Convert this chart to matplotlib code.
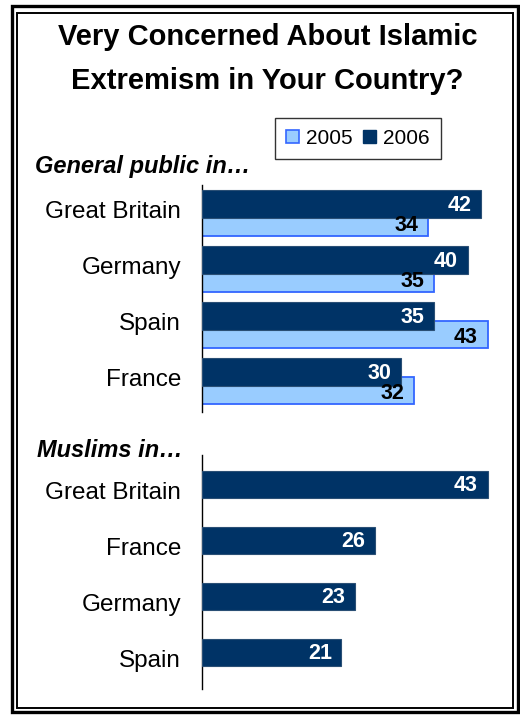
import matplotlib

matplotlib.use("Agg")
import matplotlib.pyplot as plt
from matplotlib.patches import Patch, Rectangle

plt.rcParams["font.family"] = ["Liberation Sans", "DejaVu Sans"]

# data
public_countries = ["Great Britain", "Germany", "Spain", "France"]
public_2005 = [34, 35, 43, 32]
public_2006 = [42, 40, 35, 30]
muslim_countries = ["Great Britain", "France", "Germany", "Spain"]
muslim_2006 = [43, 26, 23, 21]
title_lines = ["Very Concerned About Islamic", "Extremism in Your Country?"]

DARK = "#003366"
LIGHT = "#99CCFF"
LIGHT_EDGE = "#3366FF"

W, H = 520, 715
BAND = 56.0  # pixels per category
X0 = 202  # pixel position of zero
PX_PER_UNIT = 6.64
XMAX = 46


def fx(px):
    return px / W


def fy(py):
    return 1 - py / H


def make_axes(fig, top, bottom):
    ax = fig.add_axes([fx(X0), fy(bottom), fx(PX_PER_UNIT * XMAX), (bottom - top) / H])
    ax.set_xlim(0, XMAX)
    ax.set_ylim((bottom - top) / BAND, 0)
    for side in ["top", "right", "bottom"]:
        ax.spines[side].set_visible(False)
    ax.spines["left"].set_linewidth(1.0)
    ax.set_xticks([])
    ax.tick_params(axis="y", length=0, pad=15, labelsize=17.5)
    return ax


def value_labels(ax, ys, vals, color):
    for y, v in zip(ys, vals):
        ax.text(v - 1.45, y, str(v), ha="right", va="center", color=color,
                fontsize=15.5, fontweight="bold", zorder=5)


fig = plt.figure(figsize=(W / 100, H / 100), dpi=100)

# double frame
fig.patches.append(Rectangle((fx(11.5), fy(711.5)), fx(517.5 - 11.5), (711.5 - 6) / H,
                             transform=fig.transFigure, fill=False, lw=2.4, ec="black"))
fig.patches.append(Rectangle((fx(16.5), fy(708)), fx(513 - 16.5), (708 - 12.5) / H,
                             transform=fig.transFigure, fill=False, lw=1.4, ec="black"))

fig.text(fx(267.5), fy(45), title_lines[0], ha="center", va="baseline",
         fontsize=21, fontweight="bold")
fig.text(fx(267.5), fy(89), title_lines[1], ha="center", va="baseline",
         fontsize=21, fontweight="bold")

fig.text(fx(35), fy(173), "General public in\u2026", ha="left", va="baseline",
         fontsize=17, fontweight="bold", style="italic")
fig.text(fx(37), fy(457), "Muslims in\u2026", ha="left", va="baseline",
         fontsize=17, fontweight="bold", style="italic")

# general public
ax1 = make_axes(fig, 185, 412.3)
idx = range(len(public_countries))
y06 = [i + 0.341 for i in idx]
y05 = [i + 0.671 for i in idx]
ax1.barh(y05, public_2005, height=0.493, color=LIGHT, edgecolor=LIGHT_EDGE,
         linewidth=1.3, zorder=2)
ax1.barh(y06, public_2006, height=0.493, color=DARK, edgecolor="#2a4f75",
         linewidth=0.8, zorder=3)
value_labels(ax1, [y + 0.02 for y in y06], public_2006, "white")
value_labels(ax1, [y + 0.05 for y in y05], public_2005, "black")
ax1.set_yticks([i + 0.586 for i in idx], public_countries)
for lbl in ax1.get_yticklabels():
    lbl.set_va("baseline")

# muslims
ax2 = make_axes(fig, 455, 689.3)
idx = range(len(muslim_countries))
ym = [i + 0.527 for i in idx]
ax2.barh(ym, muslim_2006, height=0.493, color=DARK, edgecolor="#2a4f75",
         linewidth=0.8, zorder=3)
value_labels(ax2, [y + 0.015 for y in ym], muslim_2006, "white")
ax2.set_yticks([i + 0.78 for i in idx], muslim_countries)
for lbl in ax2.get_yticklabels():
    lbl.set_va("baseline")

handles = [Patch(facecolor=LIGHT, edgecolor=LIGHT_EDGE, linewidth=1.2, label="2005"),
           Patch(facecolor=DARK, edgecolor=DARK, label="2006")]
leg = fig.legend(handles=handles, loc="center", bbox_to_anchor=(fx(358), fy(138.5)),
                 ncol=2, fontsize=15, frameon=True, fancybox=False, edgecolor="black",
                 handlelength=0.6, handleheight=0.6, handletextpad=0.35,
                 columnspacing=0.5, borderpad=0.55, borderaxespad=0)
leg.get_frame().set_linewidth(1.0)

fig.savefig("out.png", dpi=100)
